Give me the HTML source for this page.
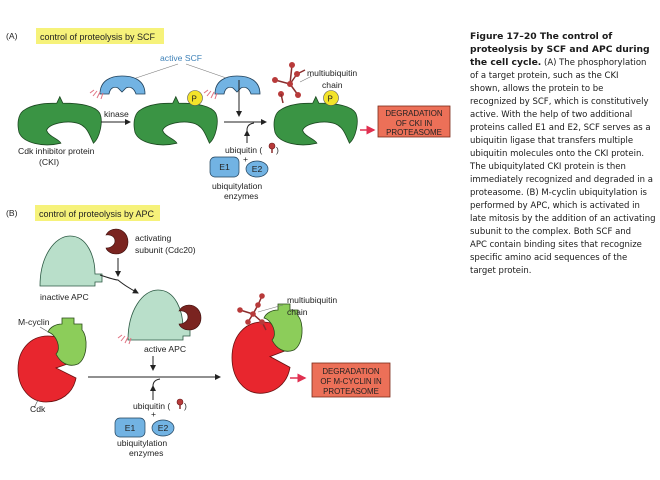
<!DOCTYPE html>
<html><head><meta charset="utf-8"><style>
html,body{margin:0;padding:0;background:#fff;}
svg{display:block;font-family:"Liberation Sans",sans-serif;}
.t{font-size:8.6px;fill:#222;}
.c{font-family:"DejaVu Sans","Liberation Sans",sans-serif;font-size:8.5px;fill:#1a1a1a;}
.cb{font-weight:bold;font-size:9.2px;}
.d{font-size:7.9px;fill:#222;}
</style></head><body>
<svg width="660" height="480" viewBox="0 0 660 480">
<defs>
<path id="cki" d="M5,10 C15,3 30,3 38,3 L41,-3 L44,3 C60,3 75,5 80,12 C84,20 80,35 74,40 C70,32 68,25 60,22 C48,18 30,22 28,28 C30,34 40,36 42,40 C25,44 5,40 1,30 C-1,22 0,14 5,10 Z" fill="#3a9444" stroke="#1d4a22" stroke-width="0.8"/>
<path id="scf" d="M0,18 C0,5 10,0 22,0 C35,0 45,5 45,18 L36,18 C34,12 30,10 26,12 L22,16 L18,12 C14,10 10,12 9,18 Z" fill="#72b3e3" stroke="#20405a" stroke-width="0.8"/>
<g id="ray" stroke="#e07080" stroke-width="1"><line x1="0" y1="0" x2="-4" y2="3"/><line x1="3" y1="1" x2="-1" y2="6"/><line x1="6" y1="2" x2="3" y2="8"/><line x1="9" y1="3" x2="7" y2="9"/></g>
<g id="ub"><line x1="0" y1="0" x2="0" y2="7" stroke="#8a2d2d" stroke-width="1.5"/><circle cx="0" cy="0" r="3" fill="#b83a3a" stroke="#6a1a1a" stroke-width="0.6"/></g>
<path id="apc" d="M0,50 C0,20 15,0 30,0 C48,0 55,22 55,38 L62,38 L62,46 L55,46 L55,50 Z" fill="#b9dfca" stroke="#2d5a44" stroke-width="0.8"/>
<path id="sub" d="M10,0 C17,0 22,6 22,13 C22,20 17,25 10,25 C5,25 1,22 0,19 C5,19 9,16 9,12 C9,8 5,5 0,6 C2,2 6,0 10,0 Z" fill="#7a2420" stroke="#3a0c0a" stroke-width="0.6"/>
<path id="cdk" d="M30,0 C48,0 58,12 58,25 L38,32 L58,42 C55,58 42,66 28,66 C12,66 0,52 0,33 C0,14 12,0 30,0 Z" fill="#e8262e" stroke="#6a1010" stroke-width="0.8"/>
<path id="cyc" d="M14,6 L14,0 L26,0 L26,6 L34,6 L34,12 C40,18 40,40 30,46 C20,50 12,44 8,36 C14,30 8,16 0,14 C2,9 8,6 14,6 Z" fill="#8ccd5a" stroke="#2a4a1a" stroke-width="0.8"/>
<marker id="ah" markerWidth="6" markerHeight="6" refX="5" refY="3" orient="auto"><path d="M0,0 L6,3 L0,6 Z" fill="#222"/></marker>
<marker id="rh" markerWidth="6" markerHeight="6" refX="5" refY="3" orient="auto"><path d="M0,0 L6,3 L0,6 Z" fill="#e03050"/></marker>
</defs>

<!-- (A) -->
<text x="6" y="39" class="t">(A)</text>
<rect x="36" y="28" width="128" height="16" fill="#f6f27a"/>
<text x="40" y="40" class="t" style="font-size:9px">control of proteolysis by SCF</text>
<text x="160" y="61" class="t" style="fill:#3f82b8">active SCF</text>
<line x1="178" y1="64" x2="130" y2="80" stroke="#777" stroke-width="0.6"/>
<line x1="186" y1="64" x2="232" y2="80" stroke="#777" stroke-width="0.6"/>
<use href="#scf" x="100" y="76"/>
<use href="#scf" x="215" y="76"/>
<use href="#ray" x="94" y="90"/>
<use href="#ray" x="208" y="90"/>
<use href="#cki" transform="translate(18,100) scale(1.02,1.08)"/>
<use href="#cki" transform="translate(134,100) scale(1.02,1.08)"/>
<use href="#cki" transform="translate(274,100) scale(1.02,1.08)"/>
<circle cx="195" cy="98" r="7.5" fill="#f3e32a" stroke="#555" stroke-width="0.6"/><text x="191.5" y="101.5" class="t" style="font-size:8px">P</text>
<circle cx="331" cy="98" r="7.5" fill="#f3e32a" stroke="#555" stroke-width="0.6"/><text x="327.5" y="101.5" class="t" style="font-size:8px">P</text>
<text x="104" y="117" class="t">kinase</text>
<line x1="101" y1="122" x2="130" y2="122" stroke="#222" marker-end="url(#ah)"/>
<line x1="224" y1="122" x2="266" y2="122" stroke="#222" marker-end="url(#ah)"/>
<line x1="239" y1="80" x2="239" y2="116" stroke="#222" marker-end="url(#ah)"/>
<path d="M247,143 L247,130 Q247,124 254,123" fill="none" stroke="#222"/>
<line x1="247" y1="143" x2="247" y2="131" stroke="#222" marker-end="url(#ah)"/>
<g stroke="#8a2d2d" stroke-width="1.5"><line x1="290" y1="84" x2="275" y2="80"/><line x1="290" y1="84" x2="297" y2="74"/><line x1="290" y1="84" x2="292" y2="65"/><line x1="290" y1="84" x2="298" y2="95"/><line x1="297" y1="74" x2="305" y2="70"/></g>
<circle cx="275" cy="80" r="3" fill="#b83a3a"/><circle cx="290" cy="84" r="3" fill="#b83a3a"/><circle cx="297" cy="74" r="3" fill="#b83a3a"/><circle cx="292" cy="65" r="3" fill="#b83a3a"/><circle cx="298" cy="95" r="3" fill="#b83a3a"/><circle cx="281" cy="94" r="3" fill="#b83a3a"/>
<line x1="281" y1="94" x2="283" y2="103" stroke="#8a2d2d" stroke-width="1.5"/>
<line x1="300" y1="82" x2="312" y2="76" stroke="#777" stroke-width="0.6"/>
<text x="307" y="76" class="t">multiubiquitin</text>
<text x="322" y="88" class="t">chain</text>
<line x1="360" y1="130" x2="374" y2="130" stroke="#e03050" stroke-width="1.5" marker-end="url(#rh)"/>
<rect x="378" y="106" width="72" height="31" fill="#ec7058" stroke="#7a2a1a" stroke-width="0.8"/>
<text x="414" y="116" text-anchor="middle" class="d">DEGRADATION</text>
<text x="414" y="126" text-anchor="middle" class="d">OF CKI IN</text>
<text x="414" y="135" text-anchor="middle" class="d">PROTEASOME</text>
<text x="18" y="154" class="t">Cdk inhibitor protein</text>
<text x="39" y="165" class="t">(CKI)</text>
<text x="225" y="153" class="t">ubiquitin (</text><use href="#ub" x="272" y="146"/><text x="276" y="153" class="t">)</text>
<text x="243" y="162" class="t">+</text>
<rect x="210" y="157" width="29" height="20" rx="5" fill="#72b3e3" stroke="#20405a" stroke-width="0.7"/>
<text x="224.5" y="170" text-anchor="middle" class="t">E1</text>
<ellipse cx="257" cy="169" rx="11" ry="8" fill="#72b3e3" stroke="#20405a" stroke-width="0.7"/>
<text x="257" y="172" text-anchor="middle" class="t">E2</text>
<text x="212" y="189" class="t">ubiquitylation</text>
<text x="224" y="199" class="t">enzymes</text>

<!-- (B) -->
<text x="6" y="216" class="t">(B)</text>
<rect x="35" y="205" width="125" height="16" fill="#f6f27a"/>
<text x="39" y="217" class="t" style="font-size:9px">control of proteolysis by APC</text>
<use href="#sub" x="106" y="229"/>
<text x="135" y="241" class="t">activating</text>
<text x="135" y="253" class="t">subunit (Cdc20)</text>
<use href="#apc" x="40" y="236"/>
<text x="40" y="300" class="t">inactive APC</text>
<line x1="118" y1="258" x2="118" y2="276" stroke="#222" marker-end="url(#ah)"/>
<path d="M100,275 Q115,280 118,280 Q125,286 138,293" fill="none" stroke="#222" marker-end="url(#ah)"/>
<use href="#apc" x="128" y="290"/>
<use href="#sub" x="179" y="305"/>
<use href="#ray" x="122" y="335"/>
<text x="144" y="352" class="t">active APC</text>
<text x="18" y="325" class="t">M-cyclin</text>
<line x1="40" y1="327" x2="55" y2="336" stroke="#555" stroke-width="0.6"/>
<use href="#cdk" x="18" y="336"/>
<use href="#cyc" x="48" y="318"/>
<line x1="38" y1="400" x2="34" y2="408" stroke="#555" stroke-width="0.6"/>
<text x="30" y="412" class="t">Cdk</text>
<line x1="88" y1="377" x2="220" y2="377" stroke="#222" marker-end="url(#ah)"/>
<line x1="153" y1="356" x2="153" y2="370" stroke="#222" marker-end="url(#ah)"/>
<path d="M153,400 L153,386 Q153,380 160,379" fill="none" stroke="#222"/>
<line x1="153" y1="400" x2="153" y2="386" stroke="#222" marker-end="url(#ah)"/>
<text x="133" y="409" class="t">ubiquitin (</text><use href="#ub" x="180" y="402"/><text x="184" y="409" class="t">)</text>
<text x="151" y="417" class="t">+</text>
<rect x="115" y="418" width="30" height="19" rx="5" fill="#72b3e3" stroke="#20405a" stroke-width="0.7"/>
<text x="130" y="431" text-anchor="middle" class="t">E1</text>
<ellipse cx="163" cy="428" rx="11" ry="8" fill="#72b3e3" stroke="#20405a" stroke-width="0.7"/>
<text x="163" y="431" text-anchor="middle" class="t">E2</text>
<text x="117" y="446" class="t">ubiquitylation</text>
<text x="129" y="456" class="t">enzymes</text>
<use href="#cdk" transform="translate(232,322) scale(1.0,1.08)"/>
<use href="#cyc" x="264" y="304"/>
<g stroke="#8a2d2d" stroke-width="1.5"><line x1="253" y1="314" x2="240" y2="310"/><line x1="253" y1="314" x2="258" y2="305"/><line x1="258" y1="305" x2="262" y2="296"/><line x1="253" y1="314" x2="262" y2="322"/><line x1="253" y1="314" x2="248" y2="322"/><line x1="262" y1="322" x2="266" y2="330"/></g>
<circle cx="240" cy="310" r="2.8" fill="#b83a3a"/><circle cx="253" cy="314" r="2.8" fill="#b83a3a"/><circle cx="258" cy="305" r="2.8" fill="#b83a3a"/><circle cx="262" cy="296" r="2.8" fill="#b83a3a"/><circle cx="262" cy="322" r="2.8" fill="#b83a3a"/><circle cx="248" cy="322" r="2.8" fill="#b83a3a"/>
<line x1="258" y1="312" x2="283" y2="305" stroke="#777" stroke-width="0.6"/>
<text x="287" y="303" class="t">multiubiquitin</text>
<text x="287" y="315" class="t">chain</text>
<line x1="290" y1="378" x2="305" y2="378" stroke="#e03050" stroke-width="1.5" marker-end="url(#rh)"/>
<rect x="312" y="363" width="78" height="34" fill="#ec7058" stroke="#7a2a1a" stroke-width="0.8"/>
<text x="351" y="374" text-anchor="middle" class="d">DEGRADATION</text>
<text x="351" y="384" text-anchor="middle" class="d">OF M-CYCLIN IN</text>
<text x="351" y="394" text-anchor="middle" class="d">PROTEASOME</text>

<g class="c">
<text x="470" y="39" class="c cb">Figure 17–20 The control of</text>
<text x="470" y="52" class="c cb">proteolysis by SCF and APC during</text>
<text x="470" y="65"><tspan class="cb">the cell cycle.</tspan> (A) The phosphorylation</text>
<text x="470" y="78">of a target protein, such as the CKI</text>
<text x="470" y="91">shown, allows the protein to be</text>
<text x="470" y="104">recognized by SCF, which is constitutively</text>
<text x="470" y="117">active. With the help of two additional</text>
<text x="470" y="130">proteins called E1 and E2, SCF serves as a</text>
<text x="470" y="143">ubiquitin ligase that transfers multiple</text>
<text x="470" y="156">ubiquitin molecules onto the CKI protein.</text>
<text x="470" y="169">The ubiquitylated CKI protein is then</text>
<text x="470" y="182">immediately recognized and degraded in a</text>
<text x="470" y="195">proteasome. (B) M-cyclin ubiquitylation is</text>
<text x="470" y="208">performed by APC, which is activated in</text>
<text x="470" y="221">late mitosis by the addition of an activating</text>
<text x="470" y="234">subunit to the complex. Both SCF and</text>
<text x="470" y="247">APC contain binding sites that recognize</text>
<text x="470" y="260">specific amino acid sequences of the</text>
<text x="470" y="273">target protein.</text>
</g>
</svg>
</body></html>
